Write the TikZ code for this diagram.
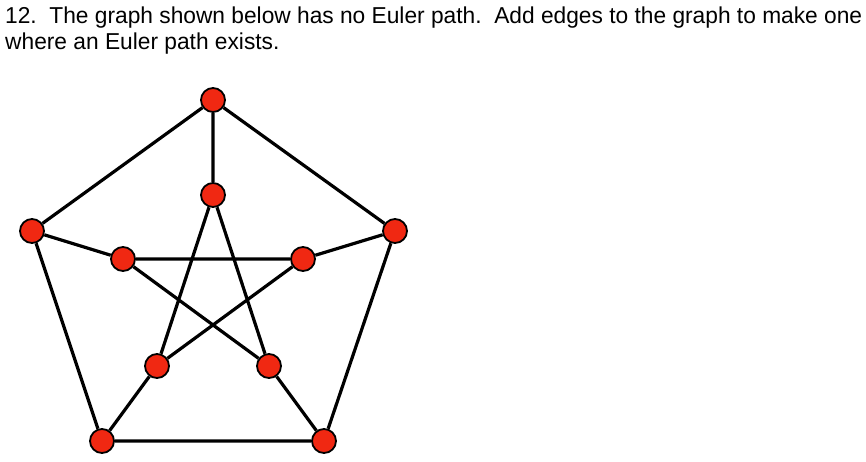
\documentclass[tikz,border=0pt]{standalone}
\usepackage{fontspec}
\setmainfont{Liberation Sans}
\usepackage{graphicx}
\definecolor{vred}{RGB}{240,40,18}
\begin{document}
\begin{tikzpicture}[x=1pt,y=-1pt,
  vtx/.style={circle,draw=black,line width=1.8pt,fill=vred,minimum size=24pt,inner sep=0pt},
  edge/.style={line width=3.2pt,black}]
\useasboundingbox (0,0) rectangle (866,461);
\node[anchor=base west,inner sep=0pt] (title) at (5,23)
  {\resizebox{857pt}{\height}{\fontsize{23}{26}\selectfont\begin{tabular}[t]{@{}l@{}}12.\ \ The graph shown below has no Euler path.\ \ Add edges to the graph to make one\\where an Euler path exists.\end{tabular}}};
% outer
\node[vtx] (o1) at (213,100) {};
\node[vtx] (o2) at (395,231) {};
\node[vtx] (o3) at (324,441) {};
\node[vtx] (o4) at (102,441) {};
\node[vtx] (o5) at (32,231) {};
% inner
\node[vtx] (i1) at (213,195) {};
\node[vtx] (i2) at (303,259) {};
\node[vtx] (i3) at (269,366) {};
\node[vtx] (i4) at (157,366) {};
\node[vtx] (i5) at (123,259) {};
\draw[edge] (o1) -- (o2) -- (o3) -- (o4) -- (o5) -- (o1);
\draw[edge] (o1) -- (i1) (o2) -- (i2) (o3) -- (i3) (o4) -- (i4) (o5) -- (i5);
\draw[edge] (i1) -- (i3) -- (i5) -- (i2) -- (i4) -- (i1);
\end{tikzpicture}
\end{document}
